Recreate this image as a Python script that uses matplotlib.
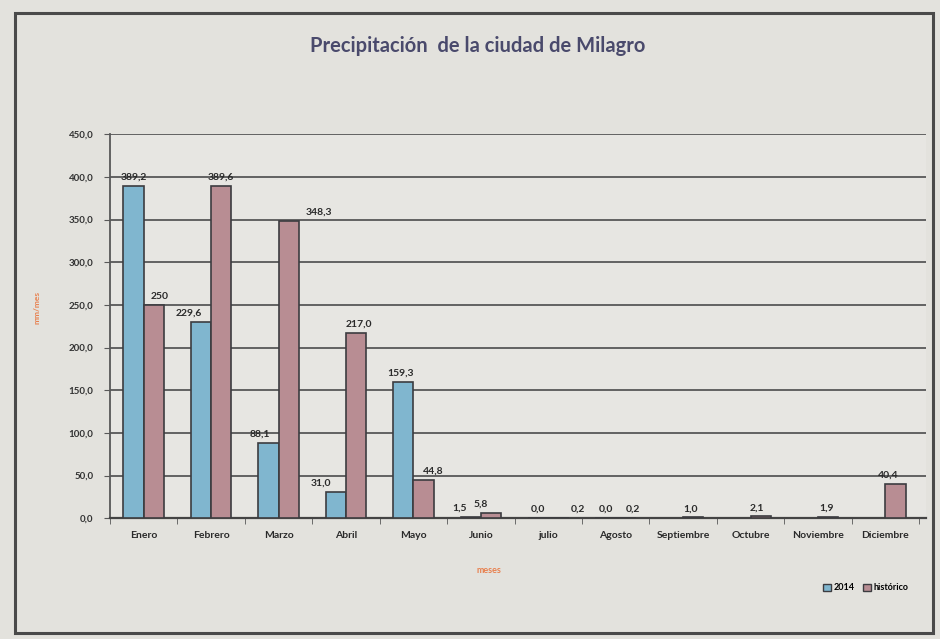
import matplotlib.pyplot as plt
import numpy as np
from matplotlib.patches import Rectangle, Patch

# data (mm/mes)
meses = ['Enero', 'Febrero', 'Marzo', 'Abril', 'Mayo', 'Junio', 'julio',
         'Agosto', 'Septiembre', 'Octubre', 'Noviembre', 'Diciembre']
lluvia_2014 = [389.2, 229.6, 88.1, 31.0, 159.3, 1.5, 0.0, 0.0,
               np.nan, np.nan, np.nan, np.nan]
lluvia_hist = [250.0, 389.6, 348.3, 217.0, 44.8, 5.8, 0.2, 0.2,
               1.0, 2.1, 1.9, 40.4]
yticks = [0, 50, 100, 150, 200, 250, 300, 350, 400, 450]

# horizontal nudges (points) of the value labels, the original places them by hand
dx_2014 = [0, -9, -6, -11, -2, -8, 0, 0, 0, 0, 0, 0]
dx_hist = [4, 0, 22, 2, 7, -7, 14, 5, -2, -3, -1, -5]

FONT = 'Lato'
BLUE = '#80b6cf'
PINK = '#b88d93'
EDGE = '#3c3c40'
GRID = '#585858'
ORANGE = '#e8804e'


def fmt(v):
    return f'{v:.1f}'.replace('.', ',')


fig = plt.figure(figsize=(9.4, 6.39), dpi=100, facecolor='#e3e2dd')
ax = fig.add_axes([0.117, 0.189, 0.868, 0.601])
ax.set_facecolor('#e7e6e2')

x = np.arange(len(meses))
w = 0.3
ax.bar(x - w / 2, lluvia_2014, w, color=BLUE, edgecolor=EDGE, linewidth=1.2,
       label='2014', zorder=3)
ax.bar(x + w / 2, lluvia_hist, w, color=PINK, edgecolor=EDGE, linewidth=1.2,
       label='histórico', zorder=3)

for i, v in enumerate(lluvia_2014):
    if np.isnan(v):
        continue
    ax.annotate(fmt(v), (x[i] - w / 2, v), xytext=(dx_2014[i], 3),
                textcoords='offset points', ha='center', va='bottom',
                fontsize=7.5, family=FONT, fontweight='bold', color='#2a2a2a')
for i, v in enumerate(lluvia_hist):
    txt = '250' if i == 0 else fmt(v)
    ax.annotate(txt, (x[i] + w / 2, v), xytext=(dx_hist[i], 3),
                textcoords='offset points', ha='center', va='bottom',
                fontsize=7.5, family=FONT, fontweight='bold', color='#2a2a2a')

ax.set_xlim(-0.5, len(meses) - 0.4)
ax.set_ylim(0, 450)
ax.set_yticks(yticks)
ax.set_yticklabels([fmt(t) for t in yticks], fontsize=7, family=FONT,
                   fontweight='bold', color='#333333')
ax.yaxis.grid(True, color=GRID, linewidth=1.3, zorder=0)
ax.set_axisbelow(True)

# month names centred, small ticks on the boundaries like Excel
ax.set_xticks(x)
ax.set_xticklabels(meses, fontsize=7.5, family=FONT, fontweight='bold', color='#2a2a2a')
ax.tick_params(axis='x', length=0, pad=9)
ax.set_xticks(np.arange(-0.5, len(meses)), minor=True)
ax.tick_params(axis='x', which='minor', length=4, color=GRID)
ax.tick_params(axis='y', length=4, color=GRID, pad=8)

for s in ['top', 'right']:
    ax.spines[s].set_visible(False)
ax.spines['left'].set_color(GRID)
ax.spines['left'].set_linewidth(1.3)
ax.spines['bottom'].set_color('#444444')
ax.spines['bottom'].set_linewidth(1.6)

ax.set_xlabel('meses', fontsize=6.5, family=FONT, fontweight='bold', color=ORANGE)
ax.xaxis.set_label_coords(0.465, -0.125)
ax.set_ylabel('mm/mes', fontsize=6, family=FONT, fontweight='bold', color=ORANGE)
ax.yaxis.set_label_coords(-0.085, 0.55)

fig.text(0.508, 0.928, 'Precipitación  de la ciudad de Milagro', ha='center', va='center',
         fontsize=14.5, family=FONT, fontweight='bold', color='#4a4a6c')

handles = [Patch(facecolor=BLUE, edgecolor=EDGE), Patch(facecolor=PINK, edgecolor=EDGE)]
fig.legend(handles, ['2014', 'histórico'], ncol=2, frameon=False,
           loc='center right', bbox_to_anchor=(0.975, 0.08),
           prop={'family': FONT, 'size': 6.5, 'weight': 'bold'},
           handlelength=0.8, handleheight=0.8, handletextpad=0.3, columnspacing=1.0)

# outer chart frame
fig.patches.append(Rectangle((15 / 940, 1 - 633 / 639), 918 / 940, 620 / 639,
                             transform=fig.transFigure, fill=False,
                             edgecolor='#4a4a4a', linewidth=2.2))

fig.savefig('out.png', dpi=100, facecolor=fig.get_facecolor())
